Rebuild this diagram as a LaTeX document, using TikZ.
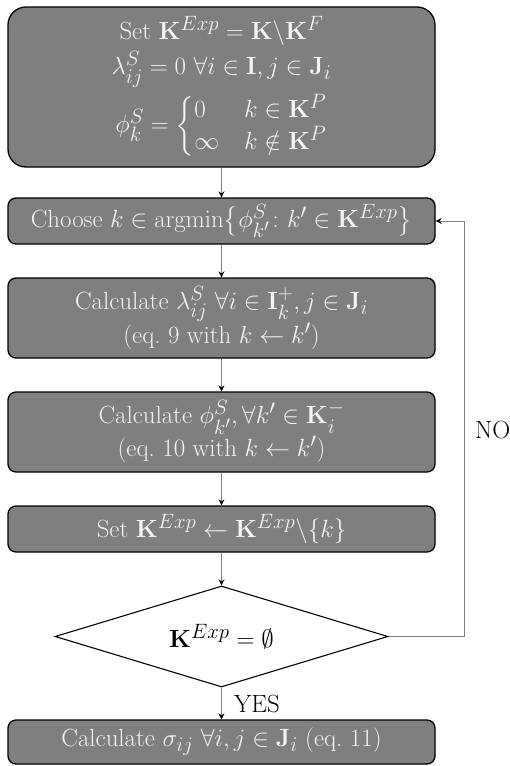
\documentclass[tikz,border=0pt]{standalone}
\usepackage{amsmath,amssymb}
\usetikzlibrary{arrows.meta,shapes.geometric}
\definecolor{boxfill}{HTML}{7F7F7F}
\definecolor{boxtext}{HTML}{F4F4F4}
\definecolor{linkgray}{HTML}{808080}
\newcommand{\flowfont}{\fontsize{24.88}{33}\selectfont}
\tikzset{
  stepbox/.style={draw=black, line width=1.3pt, fill=boxfill, text=boxtext,
    rounded corners=8pt, minimum width=427pt, align=center, inner sep=0pt,
    font=\flowfont},
  testbox/.style={draw=black, line width=1.1pt, fill=white, shape=diamond,
    aspect=3.3, minimum width=333pt, minimum height=101pt, inner sep=0pt,
    font=\flowfont},
  link/.style={draw=linkgray, line width=1pt, -{Stealth[length=6pt,width=6pt,color=black]}},
  tag/.style={font=\flowfont, text=black, inner sep=0pt}
}
\begin{document}
\begin{tikzpicture}[x=1pt,y=-1pt]
\useasboundingbox (0,0) rectangle (509,766);

\node[stepbox, rounded corners=18pt, minimum height=160pt] (init) at (221.5,87)
  {Set $\mathbf{K}^{Exp} = \mathbf{K}\backslash\mathbf{K}^F$\\[2pt]
   $\lambda^S_{ij} = 0\ \forall i\in\mathbf{I}, j\in\mathbf{J}_i$\\[6pt]
   $\phi^S_k = \left\{\renewcommand{\arraystretch}{0.85}%
     \begin{array}{@{}l@{\quad}l@{}}0 & k\in\mathbf{K}^P\\ \infty & k\notin\mathbf{K}^P\end{array}\right.$};

\node[stepbox, minimum height=46pt] (choose) at (221.5,221)
  {Choose $k \in \operatorname{argmin}\bigl\{\phi^S_{k'}\colon k'\in\mathbf{K}^{Exp}\bigr\}$};

\node[stepbox, minimum height=80pt] (lambda) at (221.5,318)
  {Calculate $\lambda^S_{ij}\ \forall i\in\mathbf{I}^+_k, j\in\mathbf{J}_i$\\
   (eq.~9 with $k\leftarrow k'$)};

\node[stepbox, minimum height=80pt] (phi) at (221.5,432)
  {Calculate $\phi^S_{k'}, \forall k'\in\mathbf{K}^-_i$\\
   (eq.~10 with $k\leftarrow k'$)};

\node[stepbox, minimum height=46pt] (remove) at (221.5,529)
  {Set $\mathbf{K}^{Exp} \leftarrow \mathbf{K}^{Exp}\backslash\{k\}$};

\node[testbox] (empty) at (221.5,636.5) {$\mathbf{K}^{Exp} = \emptyset$};

\node[stepbox, minimum height=44pt] (sigma) at (221.5,742)
  {Calculate $\sigma_{ij}\ \forall i, j\in\mathbf{J}_i$ (eq.~11)};

\coordinate (loopbot) at (464,636.5);
\coordinate (looptop) at (464,221);

\draw[link] (init) -- (choose);
\draw[link] (choose) -- (lambda);
\draw[link] (lambda) -- (phi);
\draw[link] (phi) -- (remove);
\draw[link] (remove) -- (empty);
\draw[link] (empty) -- (sigma);
\draw[link] (empty.east) -- (loopbot) -- (looptop) -- (choose.east);

\node[tag, anchor=west] (no) at (475,430) {NO};
\node[tag, anchor=west] (yes) at (234,704) {YES};
\end{tikzpicture}
\end{document}
